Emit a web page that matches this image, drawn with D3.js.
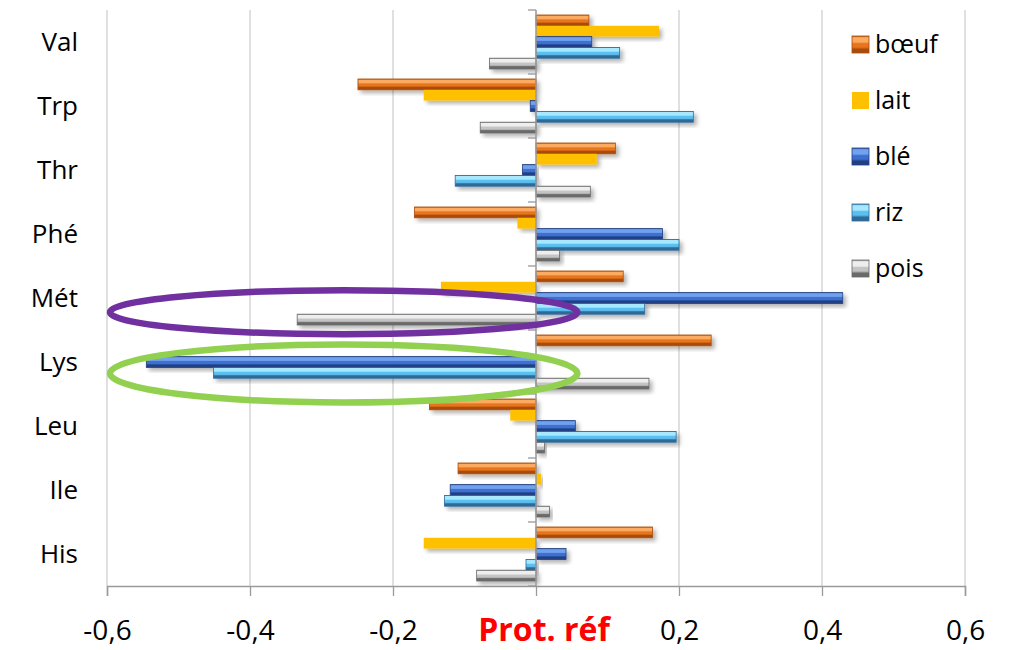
<!DOCTYPE html>
<html>
<head>
<meta charset="utf-8">
<script src="https://cdn.jsdelivr.net/npm/d3@7"></script>
<style>
  body { margin: 0; background: #fff; }
  svg { font-family: "Open Sans", "Noto Sans", sans-serif; }
</style>
</head>
<body>
<div id="chart"></div>
<script>
// categories, top to bottom
var categories = ["Val", "Trp", "Thr", "Phé", "Mét", "Lys", "Leu", "Ile", "His"];
var series = ["bœuf", "lait", "blé", "riz", "pois"];

// values per series, same order as categories
var boeuf = [0.074, -0.249, 0.111, -0.170, 0.122, 0.245, -0.149, -0.109, 0.163];
var lait  = [0.172, -0.157, 0.085, -0.026, -0.133, 0.000, -0.036, 0.007, -0.157];
var ble   = [0.078, -0.008, -0.019, 0.177, 0.429, -0.545, 0.055, -0.120, 0.042];
var riz   = [0.117, 0.220, -0.113, 0.200, 0.152, -0.451, 0.196, -0.128, -0.014];
var pois  = [-0.065, -0.078, 0.076, 0.033, -0.334, 0.158, 0.012, 0.019, -0.083];

var xTicks = [-0.6, -0.4, -0.2, 0, 0.2, 0.4, 0.6];

var seriesValues = [boeuf, lait, ble, riz, pois];

// edge / light / mid / dark shades for the bevelled look
var shades = {
    "bœuf": ["#b4560f", "#fbaa60", "#e8741e", "#a84c0c"],
    "lait": ["#ffc000", "#ffc000", "#ffc000", "#ffc000"],
    "blé":  ["#2a4f9c", "#72a2ee", "#3c6fd0", "#213f82"],
    "riz":  ["#3a7db0", "#a8e8ff", "#5bbfef", "#2f6a98"],
    "pois": ["#8a8a8a", "#eeeeee", "#c4c4c4", "#6a6a6a"]
};

var width = 1009, height = 650;
var margin = { top: 10, right: 44, bottom: 64, left: 107 };

var svg = d3.select("#chart").append("svg")
    .attr("width", width)
    .attr("height", height);

var defs = svg.append("defs");

var shadow = defs.append("filter").attr("id", "shadow")
    .attr("x", "-10%").attr("y", "-30%").attr("width", "130%").attr("height", "180%");
shadow.append("feDropShadow")
    .attr("dx", 3).attr("dy", 3).attr("stdDeviation", 2)
    .attr("flood-color", "#000").attr("flood-opacity", 0.3);

series.forEach(function (s, i) {
    var c = shades[s];
    var g = defs.append("linearGradient").attr("id", "grad" + i)
        .attr("x1", 0).attr("y1", 0).attr("x2", 0).attr("y2", 1);
    var stops = [[0, c[0]], [0.1, c[1]], [0.35, c[1]], [0.45, c[2]], [0.65, c[2]], [0.78, c[3]], [1, c[3]]];
    stops.forEach(function (st) {
        g.append("stop").attr("offset", st[0]).attr("stop-color", st[1]);
    });
});

var x = d3.scaleLinear()
    .domain([-0.6, 0.6])
    .range([margin.left, width - margin.right]);

var y0 = d3.scaleBand()
    .domain(categories)
    .range([margin.top, height - margin.bottom]);

var y1 = d3.scaleBand()
    .domain(series)
    .range([5, y0.bandwidth() - 5]);

// vertical gridlines
svg.append("g").selectAll("line")
    .data(xTicks.filter(function (d) { return d !== 0; }))
    .enter().append("line")
    .attr("x1", function (d) { return x(d); })
    .attr("x2", function (d) { return x(d); })
    .attr("y1", margin.top)
    .attr("y2", height - margin.bottom)
    .attr("stroke", "#d0d0d0")
    .attr("stroke-width", 1.3);

// x axis
var fmt = function (d) { return d3.format(".1f")(d).replace(".", ",").replace("−", "-"); };
var xAxis = svg.append("g")
    .attr("transform", "translate(0," + (height - margin.bottom) + ")")
    .call(d3.axisBottom(x).tickValues(xTicks).tickSize(10).tickPadding(24)
        .tickFormat(function (d) { return d === 0 ? "" : fmt(d); }));
xAxis.select(".domain").attr("stroke", "#9a9a9a").attr("stroke-width", 1.5);
xAxis.selectAll(".tick line").attr("stroke", "#9a9a9a").attr("stroke-width", 1.3);
xAxis.selectAll("text")
    .attr("font-size", 28)
    .attr("fill", "#000")
    .style("font-family", "'Open Sans', sans-serif");

// bars
var barData = [];
categories.forEach(function (c, ci) {
    series.forEach(function (s, si) {
        barData.push({ cat: c, ser: s, si: si, v: seriesValues[si][ci] });
    });
});

svg.append("g").selectAll("rect")
    .data(barData.filter(function (d) { return d.v !== 0; }))
    .enter().append("rect")
    .attr("x", function (d) { return x(Math.min(0, d.v)); })
    .attr("y", function (d) { return y0(d.cat) + y1(d.ser); })
    .attr("width", function (d) { return Math.abs(x(d.v) - x(0)); })
    .attr("height", y1.bandwidth())
    .attr("fill", function (d) { return "url(#grad" + d.si + ")"; })
    .attr("stroke", function (d) { return d.ser === "lait" ? "none" : shades[d.ser][3]; })
    .attr("stroke-width", 0.8)
    .attr("filter", "url(#shadow)");

// category axis at zero
var yAxis = svg.append("g")
    .attr("transform", "translate(" + x(0) + ",0)");
yAxis.append("line")
    .attr("y1", margin.top).attr("y2", height - margin.bottom)
    .attr("stroke", "#9a9a9a").attr("stroke-width", 1.5);
var bounds = categories.map(function (c) { return y0(c); }).concat([height - margin.bottom]);
yAxis.selectAll(".tk")
    .data(bounds)
    .enter().append("line")
    .attr("class", "tk")
    .attr("x1", -8).attr("x2", 0)
    .attr("y1", function (d) { return d; })
    .attr("y2", function (d) { return d; })
    .attr("stroke", "#9a9a9a").attr("stroke-width", 1.3);

// category labels on the left
svg.append("g").selectAll("text")
    .data(categories)
    .enter().append("text")
    .attr("x", 78)
    .attr("y", function (d) { return y0(d) + y0.bandwidth() / 2; })
    .attr("dy", "0.35em")
    .attr("text-anchor", "end")
    .attr("font-size", 26)
    .text(function (d) { return d; });

// annotation ellipses (Mét pois, Lys blé + riz)
svg.append("ellipse")
    .attr("cx", (x(-0.6) + x(0.062)) / 2)
    .attr("cy", y0("Mét") + y1("pois") - 2)
    .attr("rx", (x(0.062) - x(-0.6)) / 2 - 3)
    .attr("ry", 22)
    .attr("fill", "none")
    .attr("stroke", "#7030a0")
    .attr("stroke-width", 6.5);

svg.append("ellipse")
    .attr("cx", (x(-0.6) + x(0.062)) / 2)
    .attr("cy", y0("Lys") + y1("riz") + 6)
    .attr("rx", (x(0.062) - x(-0.6)) / 2 - 3)
    .attr("ry", 29)
    .attr("fill", "none")
    .attr("stroke", "#92d050")
    .attr("stroke-width", 6.5);

// axis title
svg.append("text")
    .attr("x", x(0) + 8)
    .attr("y", 641)
    .attr("text-anchor", "middle")
    .attr("font-size", 32)
    .attr("font-weight", "bold")
    .attr("fill", "#ff0000")
    .text("Prot. réf");

// legend
var legend = svg.append("g").attr("transform", "translate(852,44)");
var item = legend.selectAll("g")
    .data(series)
    .enter().append("g")
    .attr("transform", function (d, i) { return "translate(0," + i * 56 + ")"; });
item.append("rect")
    .attr("x", 0).attr("y", -8)
    .attr("width", 17).attr("height", 17)
    .attr("fill", function (d, i) { return "url(#grad" + i + ")"; })
    .attr("stroke", function (d) { return d === "lait" ? "none" : shades[d][3]; })
    .attr("stroke-width", 0.8);
item.append("text")
    .attr("x", 23)
    .attr("y", 0)
    .attr("dy", "0.35em")
    .attr("font-size", 25)
    .text(function (d) { return d; });
</script>
</body>
</html>
